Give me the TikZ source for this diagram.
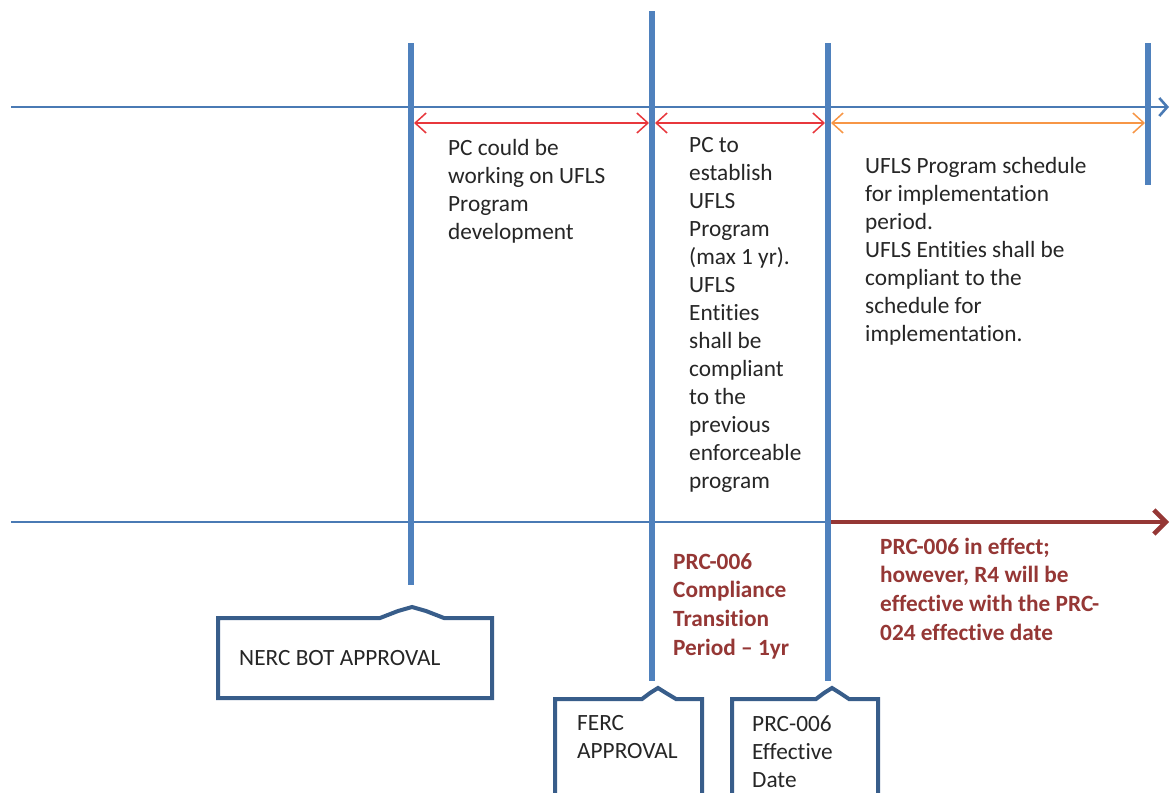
\documentclass[tikz,border=0pt]{standalone}
\usepackage{fontspec}
\setmainfont{Carlito}[Ligatures={NoCommon}]
\usetikzlibrary{arrows.meta}
\definecolor{vblue}{HTML}{4F81BD}
\definecolor{hblue}{HTML}{4A7AB4}
\definecolor{arred}{HTML}{E8373C}
\definecolor{arorange}{HTML}{F79646}
\definecolor{dred}{HTML}{953735}
\definecolor{bxblue}{HTML}{385D8A}
\definecolor{txt}{HTML}{262626}
\begin{document}
\begin{tikzpicture}[x=1pt,y=-1pt,
  vline/.style={vblue, line width=6pt},
  hline/.style={hblue, line width=2.6pt},
  spanarrow/.style={line width=1.5pt, {Straight Barb[length=11pt,width=20pt]}-{Straight Barb[length=11pt,width=20pt]}},
  body/.style={font=\fontsize{23.3}{28}\selectfont, text=txt, align=left, anchor=base west, inner sep=0pt},
  redbody/.style={body, text=dred, font=\fontsize{23.3}{28.6}\selectfont\bfseries},
  callout/.style={bxblue, line width=4pt, line join=miter, fill=white},
]
\clip (0,0) rectangle (1171,793);
\fill[white] (0,0) rectangle (1171,793);

% coordinates
\coordinate (topL) at (11,107);
\coordinate (topR) at (1169,107);
\coordinate (botL) at (11,522);
\coordinate (botM) at (828,522);
\coordinate (botR) at (1169,522);
\coordinate (v1t) at (411,43);  \coordinate (v1b) at (411,585);
\coordinate (v2t) at (652,11);  \coordinate (v2b) at (652,681);
\coordinate (v3t) at (828,43);  \coordinate (v3b) at (828,681);
\coordinate (v4t) at (1148,43); \coordinate (v4b) at (1148,185);
\coordinate (s1a) at (414,123); \coordinate (s1b) at (649,123);
\coordinate (s2a) at (655,123); \coordinate (s2b) at (825,123);
\coordinate (s3a) at (831,123); \coordinate (s3b) at (1145,123);

% horizontal timelines
\draw[hline, -{Straight Barb[length=8pt,width=18pt]}] (topL) -- (topR);
\draw[hline] (botL) -- (botM);
\draw[dred, line width=4.5pt, -{Straight Barb[length=12pt,width=24pt]}] (botM) -- (botR);

% span arrows
\draw[spanarrow, arred] (s1a) -- (s1b);
\draw[spanarrow, arred] (s2a) -- (s2b);
\draw[spanarrow, arorange] (s3a) -- (s3b);

% vertical markers
\draw[vline] (v1t) -- (v1b);
\draw[vline] (v2t) -- (v2b);
\draw[vline] (v3t) -- (v3b);
\draw[vline] (v4t) -- (v4b);

% callout boxes
\draw[callout] (218,618) -- (380,618) -- (398,611) -- (412,607) -- (426,611) -- (444,618) -- (492,618) -- (492,698) -- (218,698) -- cycle;
\draw[callout] (555,699) -- (642,699) -- (650,693) -- (658,688) -- (666,693) -- (676,699) -- (702,699) -- (702,805) -- (555,805) -- cycle;
\draw[callout] (732,699) -- (816,699) -- (824,693) -- (832,688) -- (840,693) -- (849,699) -- (878,699) -- (878,805) -- (732,805) -- cycle;

% (base anchor = baseline of the last line)
\node[body] (nerc) at (239,665) {NERC BOT APPROVAL};
\node[body] (ferc) at (577,758) {FERC\\APPROVAL};
\node[body] (eff) at (752,787) {PRC-006\\Effective\\Date};

% descriptions
\node[body] (d1) at (448,239) {PC could be\\working on UFLS\\Program\\development};
\node[body] (d2) at (689,488) {PC to\\establish\\UFLS\\Program\\(max 1 yr).\\UFLS\\Entities\\shall be\\compliant\\to the\\previous\\enforceable\\program};
\node[body] (d3) at (865,341) {UFLS Program schedule\\for implementation\\period.\\UFLS Entities shall be\\compliant to the\\schedule for\\implementation.};

\node[redbody] (r1) at (673,655) {PRC-006\\Compliance\\Transition\\Period – 1yr};
\node[redbody] (r2) at (880,640) {PRC-006 in effect;\\however, R4 will be\\effective with the PRC-\\024 effective date};
\end{tikzpicture}
\end{document}
